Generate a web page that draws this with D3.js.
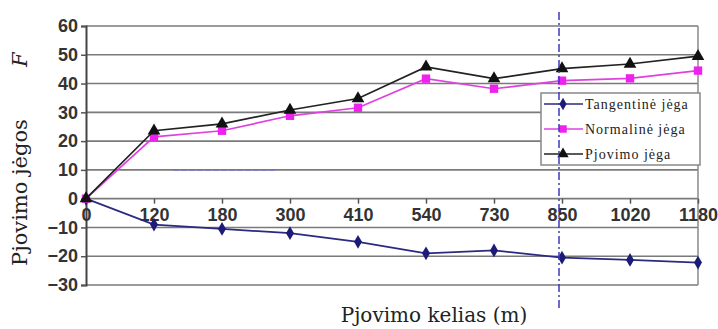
<!DOCTYPE html>
<html>
<head>
<meta charset="utf-8">
<script src="https://cdn.jsdelivr.net/npm/d3@7/dist/d3.min.js"></script>
<style>
  html, body { margin: 0; padding: 0; background: #fff; }
  svg { display: block; }
</style>
</head>
<body>
<svg id="chart" width="718" height="329"></svg>
<script>
// Cutting distance categories (m)
const categories = ["0", "120", "180", "300", "410", "540", "730", "850", "1020", "1180"];
// Force components
const tangentine = [0, -9, -10.5, -12, -15, -19, -18, -20.5, -21.3, -22.2];
const normaline  = [0, 21.5, 23.6, 28.8, 31.6, 41.7, 38.2, 41, 41.8, 44.5];
const pjovimo    = [0, 23.6, 26, 30.8, 34.8, 45.8, 41.7, 45.2, 46.8, 49.5];
const yTicks = [-30, -20, -10, 0, 10, 20, 30, 40, 50, 60];
const seriesNames = ["Tangentinė jėga", "Normalinė jėga", "Pjovimo jėga"];
const markerCategory = "850";

(function () {
const SANS = '"Liberation Sans", Arial, sans-serif';
const SERIF = '"DejaVu Serif", serif';
const TIMES = '"Liberation Serif", "Times New Roman", serif';

const svg = d3.select("#chart");
const plotLeft = 86, plotRight = 698, plotTop = 26, plotBottom = 285;

const x = d3.scalePoint().domain(categories).range([plotLeft, plotRight]);
const y = d3.scaleLinear().domain([-30, 60]).range([plotBottom, plotTop]);

// Horizontal gridlines
svg.append("g").selectAll("line").data(yTicks).join("line")
  .attr("x1", plotLeft).attr("x2", plotRight)
  .attr("y1", d => y(d)).attr("y2", d => y(d))
  .attr("stroke", "#7a7a7a").attr("stroke-width", 1.6);

// Faint bluish stretch on the 10 line
const step = x.step();
svg.append("line")
  .attr("x1", x("120") + step * 0.28).attr("x2", x("300") - step * 0.22)
  .attr("y1", y(10)).attr("y2", y(10))
  .attr("stroke", "#7070d8").attr("stroke-width", 1.6)
  .attr("stroke-dasharray", "6 2").attr("opacity", 0.8);

// Right frame line
svg.append("line")
  .attr("x1", plotRight).attr("x2", plotRight).attr("y1", plotTop).attr("y2", plotBottom)
  .attr("stroke", "#8a8a8a").attr("stroke-width", 1.5);

// Y axis
const yAxis = d3.axisLeft(y).tickValues(yTicks).tickSize(5).tickPadding(3);
const gy = svg.append("g").attr("transform", `translate(${plotLeft},0)`).call(yAxis);
gy.select(".domain").attr("stroke", "#444").attr("stroke-width", 2);
gy.selectAll(".tick line").attr("stroke", "#555").attr("stroke-width", 1.5);
gy.selectAll(".tick text")
  .style("font-family", SANS).style("font-size", "18px").style("font-weight", "bold")
  .attr("fill", "#333");

// X axis along the zero line
const xAxis = d3.axisBottom(x).tickSize(5).tickPadding(8);
const gx = svg.append("g").attr("transform", `translate(0,${y(0)})`).call(xAxis);
gx.select(".domain").remove();
gx.selectAll(".tick line").attr("stroke", "#555").attr("stroke-width", 1.5);
gx.selectAll(".tick text")
  .style("font-family", SANS).style("font-size", "18px").style("font-weight", "bold")
  .attr("fill", "#333").attr("dy", "0.5em");

// Series
const series = [
  { name: seriesNames[0], values: tangentine, color: "#1c1c78", line: "#2a2a80", shape: d3.symbolDiamond, size: 55 },
  { name: seriesNames[1], values: normaline,  color: "#ee22ee", line: "#e040e0", shape: d3.symbolSquare,  size: 70 },
  { name: seriesNames[2], values: pjovimo,    color: "#111111", line: "#222222", shape: d3.symbolTriangle, size: 70 }
];

const line = d3.line().x((d, i) => x(categories[i])).y(d => y(d));

series.forEach(s => {
  svg.append("path").datum(s.values)
    .attr("d", line).attr("fill", "none")
    .attr("stroke", s.line).attr("stroke-width", 1.7);
  svg.append("g").selectAll("path").data(s.values).join("path")
    .attr("transform", (d, i) => `translate(${x(categories[i])},${y(d)})`)
    .attr("d", d3.symbol().type(s.shape).size(s.size))
    .attr("fill", s.color);
});

// Legend
const lg = svg.append("g");
const lx = 541, ly = 93, lw = 159, lh = 72;
lg.append("rect").attr("x", lx).attr("y", ly).attr("width", lw).attr("height", lh)
  .attr("fill", "#fff").attr("stroke", "#888").attr("stroke-width", 1.5);
const rowY = [104, 129, 154];
series.forEach((s, i) => {
  lg.append("line").attr("x1", lx + 3).attr("x2", lx + 42)
    .attr("y1", rowY[i]).attr("y2", rowY[i])
    .attr("stroke", s.line).attr("stroke-width", 1.6);
  lg.append("path")
    .attr("transform", `translate(${lx + 22},${rowY[i]})`)
    .attr("d", d3.symbol().type(s.shape).size(s.size * 0.8))
    .attr("fill", s.color);
  lg.append("text")
    .attr("x", lx + 44).attr("y", rowY[i] + 4.5)
    .style("font-family", TIMES).style("font-size", "14px").style("letter-spacing", "1px")
    .attr("fill", "#222")
    .text(s.name);
});

// Vertical dash-dot marker line
svg.append("line")
  .attr("x1", x(markerCategory) - 3).attr("x2", x(markerCategory) - 3)
  .attr("y1", 12).attr("y2", 311)
  .attr("stroke", "#3a3ac0").attr("stroke-width", 1.5)
  .attr("stroke-dasharray", "8 3 2 3");

// Axis titles
svg.append("text")
  .attr("x", 434).attr("y", 322).attr("text-anchor", "middle")
  .style("font-family", SERIF).style("font-size", "20px")
  .attr("fill", "#222")
  .text("Pjovimo kelias (m)");

const yt = svg.append("text")
  .attr("transform", "translate(27,266) rotate(-90)")
  .attr("text-anchor", "start")
  .style("font-family", SERIF).style("font-size", "21px")
  .attr("fill", "#222");
yt.append("tspan").text("Pjovimo jėgos");
yt.append("tspan").attr("dx", 52).style("font-style", "italic").text("F");
})();
</script>
</body>
</html>
